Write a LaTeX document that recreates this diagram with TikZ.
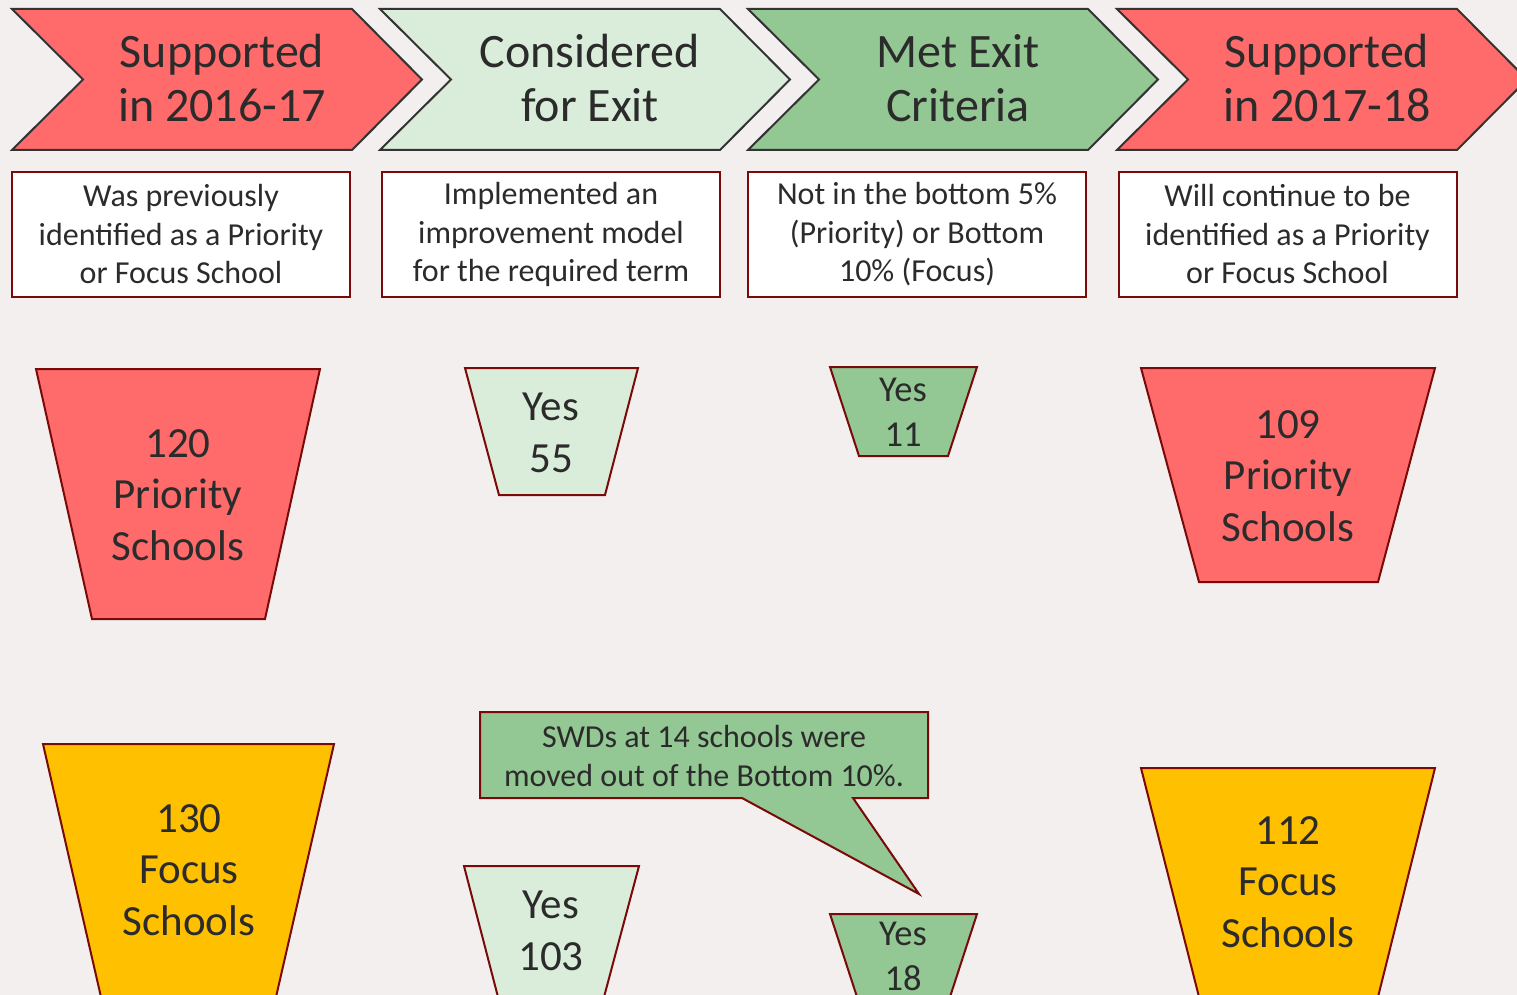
\documentclass[tikz,border=0pt]{standalone}
\usepackage{fontspec}
\setmainfont{Carlito}
\definecolor{bg}{HTML}{F2EFEE}
\definecolor{redf}{HTML}{FF6B6B}
\definecolor{lgreen}{HTML}{DAEDDA}
\definecolor{mgreen}{HTML}{93C793}
\definecolor{yel}{HTML}{FFC000}
\definecolor{dred}{HTML}{7A0A0A}
\definecolor{txt}{HTML}{2B2B2B}
\tikzset{
  chev/.style={draw=black!80, line width=2pt, line join=miter},
  tbox/.style={draw=dred, line width=2pt, fill=white, minimum width=338, minimum height=125, inner sep=0pt},
  trap/.style={draw=dred, line width=2pt, line join=miter},
  big/.style={text=txt, font=\fontsize{48}{54}\selectfont, align=center, inner sep=0pt},
  mid/.style={text=txt, font=\fontsize{32}{38.5}\selectfont, align=center},
  num/.style={text=txt, font=\fontsize{43}{51.5}\selectfont, align=center, inner sep=0pt},
  sml/.style={text=txt, font=\fontsize{36.5}{45}\selectfont, align=center, inner sep=0pt},
}
\begin{document}
\begin{tikzpicture}[x=1pt,y=-1pt]
\useasboundingbox[fill=bg] (0,0) rectangle (1517,995);
% chevrons
\draw[chev, fill=redf, shift={(12,0)}] (0,9) -- (340,9) -- (410,79.5) -- (340,150) -- (0,150) -- (71,79.5) -- cycle;
\draw[chev, fill=lgreen, shift={(380,0)}] (0,9) -- (340,9) -- (410,79.5) -- (340,150) -- (0,150) -- (71,79.5) -- cycle;
\draw[chev, fill=mgreen, shift={(748,0)}] (0,9) -- (340,9) -- (410,79.5) -- (340,150) -- (0,150) -- (71,79.5) -- cycle;
\draw[chev, fill=redf, shift={(1117,0)}] (0,9) -- (340,9) -- (410,79.5) -- (340,150) -- (0,150) -- (71,79.5) -- cycle;
\node[big] (c1) at (222,78) {Supported\\in 2016-17};
\node[big] (c2) at (590,78) {Considered\\for Exit};
\node[big] (c3) at (958,78) {Met Exit\\Criteria};
\node[big] (c4) at (1327,78) {Supported\\in 2017-18};
% description boxes
\node[tbox, mid] (b1) at (181,234.5) {Was previously\\identified as a Priority\\or Focus School};
\node[tbox, mid] (b2) at (551,234.5) {Implemented an\\improvement model\\for the required term};
\node[tbox, mid] (b3) at (917,234.5) {Not in the bottom 5\%\\(Priority) or Bottom\\10\% (Focus)};
\node[tbox, mid] (b4) at (1287.5,234.5) {Will continue to be\\identified as a Priority\\or Focus School};
% priority row
\draw[trap, fill=redf] (36,369) -- (320,369) -- (265,619) -- (92,619) -- cycle;
\node[num] (p1) at (178,495) {120\\Priority\\Schools};
\draw[trap, fill=lgreen] (465,368) -- (638,368) -- (605,495) -- (499,495) -- cycle;
\node[num] (p2) at (551,433) {Yes\\55};
\draw[trap, fill=mgreen] (830,367) -- (977,367) -- (948,456) -- (859,456) -- cycle;
\node[sml] (p3) at (903,412) {Yes\\11};
\draw[trap, fill=redf] (1141,368) -- (1435,368) -- (1378,582) -- (1199,582) -- cycle;
\node[num] (p4) at (1288,476) {109\\Priority\\Schools};
% focus row
\draw[trap, fill=yel] (43,744) -- (334,744) -- (276,997) -- (101,997) -- cycle;
\node[num] (f1) at (189,870) {130\\Focus\\Schools};
\draw[trap, fill=lgreen] (464,866) -- (639,866) -- (604,997) -- (498,997) -- cycle;
\node[num] (f2) at (551,931) {Yes\\103};
\draw[trap, fill=mgreen] (830,914) -- (977,914) -- (949,1000) -- (858,1000) -- cycle;
\node[sml] (f3) at (903,956) {Yes\\18};
\draw[trap, fill=yel] (1141,768) -- (1435,768) -- (1378,997) -- (1199,997) -- cycle;
\node[num] (f4) at (1288,882) {112\\Focus\\Schools};
% callout
\draw[trap, fill=mgreen] (480,712) -- (928,712) -- (928,798) -- (853,798) -- (919,894) -- (742,798) -- (480,798) -- cycle;
\node[mid, inner sep=0pt] (co) at (704,756) {SWDs at 14 schools were\\moved out of the Bottom 10\%.};
\end{tikzpicture}
\end{document}
